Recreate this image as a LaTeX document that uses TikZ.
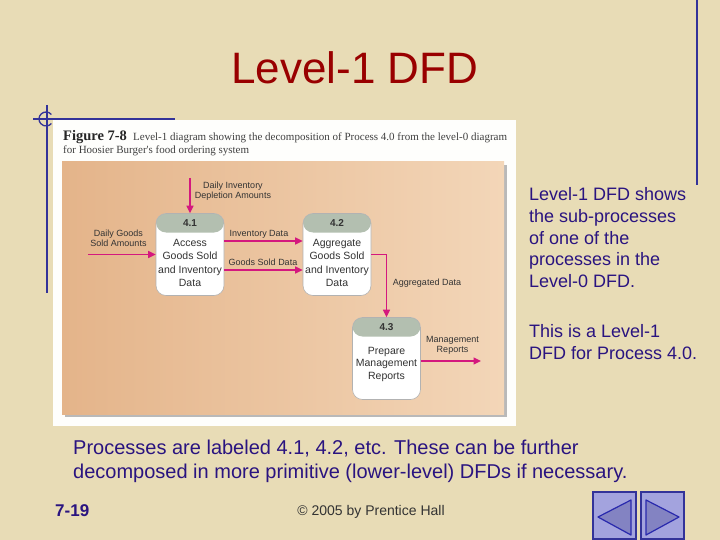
\documentclass[tikz,border=0pt]{standalone}
\usepackage{fontspec}
\setmainfont{Liberation Sans}
\newfontfamily\capserif{Liberation Serif}
\usetikzlibrary{arrows.meta}
\definecolor{parch}{HTML}{E8DCB6}
\definecolor{titlered}{HTML}{990000}
\definecolor{ink}{HTML}{2A1480}
\definecolor{navline}{HTML}{333399}
\definecolor{flowmag}{HTML}{D4187E}
\definecolor{hdr}{HTML}{B3BFB0}
\definecolor{tanA}{HTML}{E4B48A}
\definecolor{tanB}{HTML}{F3D6B8}
\definecolor{btnfill}{HTML}{A3A3DE}
\definecolor{trifill}{HTML}{8383C2}
\definecolor{lbl}{HTML}{333333}
\begin{document}
\begin{tikzpicture}[x=1pt,y=-1pt,
  deco/.style={draw=navline, line width=1.3pt},
  flow/.style={draw=flowmag, line width=1.4pt, -{Triangle[length=7.5pt,width=7pt]}},
  proc/.style={draw=gray!60, fill=white, rounded corners=10pt, minimum width=68pt,
    minimum height=82pt, inner sep=0pt, line width=0.6pt,
    path picture={\fill[hdr] ([yshift=2pt]path picture bounding box.north west)
      rectangle ([yshift=-19pt]path picture bounding box.north east);}},
  hdrtext/.style={font=\bfseries\fontsize{10}{12}\selectfont, text=lbl, inner sep=0pt},
  bodytext/.style={font=\fontsize{10.5}{13.5}\selectfont, text=lbl, align=center, inner sep=0pt},
  flowlbl/.style={font=\fontsize{9}{10}\selectfont, text=lbl, align=center, inner sep=0pt},
  para/.style={font=\fontsize{18}{21.5}\selectfont, text=ink, align=left, inner sep=0pt, anchor=base west},
  btn/.style={fill=btnfill, draw=navline, line width=1.5pt},
  tri/.style={fill=trifill, draw=navline!80!blue, line width=1.2pt, line join=round}]
\useasboundingbox (0,0) rectangle (720,540);
\fill[parch] (0,0) rectangle (720,540);
% decorative lines
\draw[deco] (697,0) -- (697,185);
\draw[deco] (33,119) -- (175,119);
\draw[deco] (47,105) -- (47,293);
\draw[deco] (46,119) ++(40:7pt) arc[start angle=40, end angle=320, radius=7pt];
% title
\node[anchor=base, font=\fontsize{44}{50}\selectfont, text=titlered, inner sep=0pt] (title) at (355,84) {Level-1 DFD};
% figure frame
\fill[white!96!parch] (53,120) rectangle (516,426);
\fill[gray!55] (65,165) rectangle (507,417);
\shade[left color=tanA, right color=tanB] (62,162) rectangle (504,414);
% caption
\node[anchor=base west, inner sep=0pt, text=black!85, font=\capserif\bfseries\fontsize{14.5}{16}\selectfont] (fig) at (63,141) {Figure 7-8};
\node[anchor=base west, inner sep=0pt, text=black!75, font=\capserif\fontsize{11}{12}\selectfont] (cap1) at (133,141) {Level-1 diagram showing the decomposition of Process 4.0 from the level-0 diagram};
\node[anchor=base west, inner sep=0pt, text=black!75, font=\capserif\fontsize{11}{12}\selectfont] (cap2) at (63,154) {for Hoosier Burger's food ordering system};
% processes
\node[proc] (p41) at (190,254.5) {};
\node[proc] (p42) at (337,254.5) {};
\node[proc] (p43) at (386.5,358.5) {};
\node[hdrtext] (h41) at ([yshift=-10pt]p41.north) {4.1};
\node[hdrtext] (h42) at ([yshift=-10pt]p42.north) {4.2};
\node[hdrtext] (h43) at ([yshift=-10pt]p43.north) {4.3};
\node[bodytext] (b41) at ([yshift=-8.5pt]p41.center) {Access\\Goods Sold\\and Inventory\\Data};
\node[bodytext] (b42) at ([yshift=-8.5pt]p42.center) {Aggregate\\Goods Sold\\and Inventory\\Data};
\node[bodytext, font=\fontsize{10.5}{12.5}\selectfont] (b43) at ([yshift=-5.5pt]p43.center) {Prepare\\Management\\Reports};
% flows
\coordinate (in1) at (190,178);
\coordinate (in2) at (88,254.5);
\coordinate (out) at (481,361);
\draw[flow] (in1) -- (p41.north);
\draw[flow] (in2) -- (in2 -| p41.west);
\draw[flow] ([yshift=13.5pt]p41.east) -- ([yshift=13.5pt]p42.west);
\draw[flow] ([yshift=-15.5pt]p41.east) -- ([yshift=-15.5pt]p42.west);
\draw[flow] (p42.east) -| (p43.north);
\draw[flow] (p43.east |- out) -- (out);
% flow labels
\node[flowlbl] (l1) at (233,191) {Daily Inventory\\Depletion Amounts};
\node[flowlbl] (l2) at (118.5,238) {Daily Goods\\Sold Amounts};
\node[flowlbl] (l3) at (259,234) {Inventory Data};
\node[flowlbl] (l4) at (263,262) {Goods Sold Data};
\node[flowlbl] (l5) at (427,283) {Aggregated Data};
\node[flowlbl] (l6) at (452.5,345) {Management\\Reports};
% right text
\node[para] (r1) at (529,287) {Level-1 DFD shows\\the sub-processes\\of one of the\\processes in the\\Level-0 DFD.};
\node[para] (r2) at (529,359) {This is a Level-1\\DFD for Process 4.0.};
% bottom text
\node[para, font=\fontsize{20}{24}\selectfont] (bt) at (73,478) {Processes are labeled 4.1, 4.2, etc. These can be further\\decomposed in more primitive (lower-level) DFDs if necessary.};
% footer
\node[anchor=base west, inner sep=0pt, text=ink, font=\bfseries\fontsize{17}{20}\selectfont] (pg) at (55,516) {7-19};
\node[anchor=base, inner sep=0pt, text=black!80, font=\fontsize{14}{16}\selectfont] (copy) at (371,515) {© 2005 by Prentice Hall};
% nav buttons
\draw[btn] (593,492) rectangle (636,539);
\draw[btn] (641,492) rectangle (684,539);
\draw[tri] (598,517) -- (631,500) -- (631,535) -- cycle;
\draw[tri] (646,500) -- (646,535) -- (679,517) -- cycle;
\end{tikzpicture}
\end{document}
